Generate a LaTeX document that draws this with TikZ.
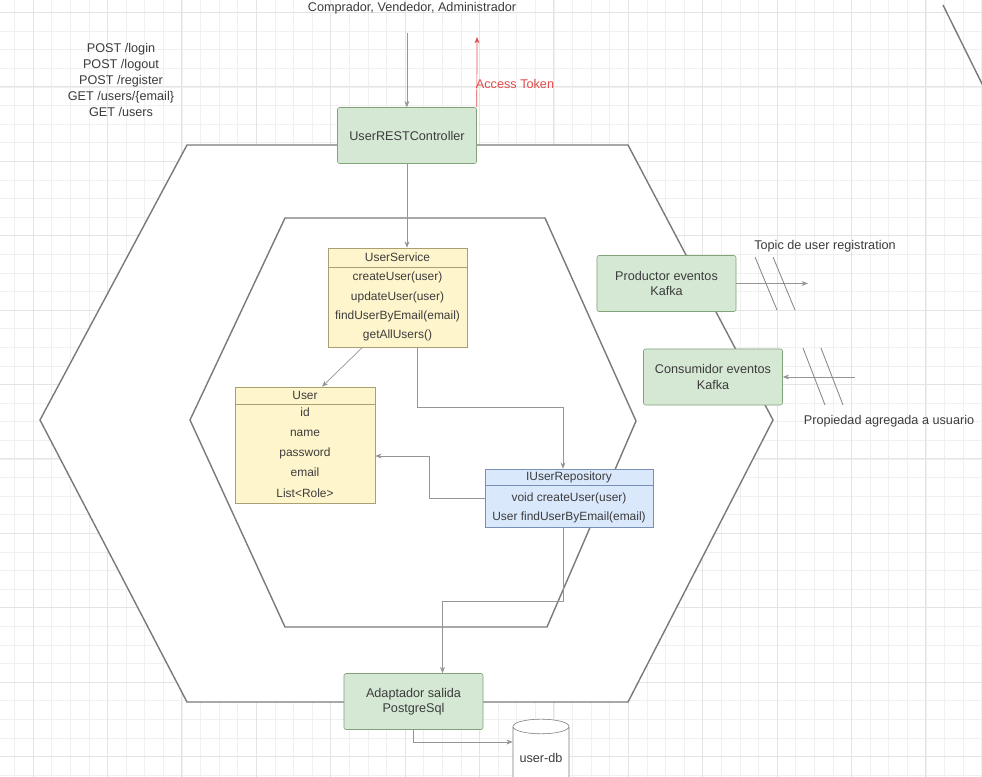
\documentclass[tikz,border=0pt]{standalone}
\usepackage{fontspec}
\setmainfont{Liberation Sans}
\usetikzlibrary{arrows.meta, positioning, shapes.geometric, calc}
\definecolor{hxline}{HTML}{7A7A7A}
\definecolor{hxtext}{HTML}{3C3C3C}
\definecolor{hxgreen}{HTML}{D5E8D4}
\definecolor{hxgreenline}{HTML}{82A37A}
\definecolor{hxyellow}{HTML}{FFF5CC}
\definecolor{hxyellowline}{HTML}{A8A070}
\definecolor{hxblue}{HTML}{DAE8FC}
\definecolor{hxblueline}{HTML}{7890B8}
\definecolor{hxred}{HTML}{E34A4A}
\definecolor{hxgrid}{HTML}{F0F0F0}
\definecolor{hxgridmajor}{HTML}{E4E4E4}

\begin{document}
\begin{tikzpicture}[
  x=0.025cm, y=-0.025cm,
  every node/.style={font=\fontsize{9}{11}\selectfont, text=hxtext},
  comp/.style={rectangle, draw=hxgreenline, fill=hxgreen, rounded corners=1.5pt, align=center, minimum width=3.475cm, minimum height=1.4cm},
  cls/.style={rectangle, draw, minimum width=3.5cm},
  row/.style={font=\fontsize{8.5}{10}\selectfont, inner sep=1pt, text height=6.3pt, text depth=1.8pt},
  link/.style={draw=hxline!80, line width=0.5pt, -{Stealth[length=4.5pt, width=3.5pt]}},
  hex/.style={draw=hxline, line width=1pt, fill=white},
  slash/.style={draw=hxline!90, line width=0.6pt},
]
\clip (0,0) rectangle (982,777);
\fill[white] (0,0) rectangle (982,777);

% Grid
\foreach \gx in {14.4,33,...,990} \draw[hxgrid, line width=0.4pt] (\gx,0) -- (\gx,777);
\foreach \gy in {12.4,31,...,790} \draw[hxgrid, line width=0.4pt] (0,\gy) -- (982,\gy);
\foreach \gx in {33,107.4,...,990} \draw[hxgridmajor, line width=0.5pt] (\gx,0) -- (\gx,777);
\foreach \gy in {12.4,86.8,...,790} \draw[hxgridmajor, line width=0.5pt] (0,\gy) -- (982,\gy);

\draw[hex] (187,145) -- (628,145) -- (773,420) -- (628,702) -- (187,702) -- (40,420) -- cycle;
\draw[hex] (285,218) -- (545,218) -- (636,421) -- (547,627) -- (285,627) -- (190,420) -- cycle;
\draw[hxline, line width=1pt] (943,5) -- (990,100);

\node[align=center, font=\fontsize{9}{11.4}\selectfont] (endpoints) at (121,80) {POST /login\\POST /logout\\POST /register\\GET /users/\{email\}\\GET /users};
\node[anchor=north, inner sep=1pt] (actors) at (412,0.5) {Comprador, Vendedor, Administrador};
\node[text=hxred] (token) at (515,84) {Access Token};

\node[comp] (ctrl) at (407,135.5) {UserRESTController};
\node[comp] (prod) at (666.5,283.5) {Productor eventos\\Kafka};
\node[comp] (cons) at (713,377) {Consumidor eventos\\Kafka};
\node[comp] (adapt) at (413.5,701.5) {Adaptador salida\\PostgreSql};
\node[cylinder, shape border rotate=90, aspect=0.28, draw=hxline, fill=white, minimum width=1.4cm, minimum height=1.65cm] (db) at (541,758) {user-db};

\node[cls, draw=hxyellowline, fill=hxyellow, minimum width=3.475cm, minimum height=2.475cm] (svc) at (397.5,297.5) {};
\draw[hxyellowline] ([yshift=-0.5cm]svc.north west) -- ([yshift=-0.5cm]svc.north east);
\node[row] (svc-h) at (397.5,258) {UserService};
\foreach \t [count=\i] in {createUser(user), updateUser(user), findUserByEmail(email), getAllUsers()}
  \node[row] (svc-\i) at (397.5,258.5+19.2*\i) {\t};

\node[cls, draw=hxyellowline, fill=hxyellow, minimum width=3.5cm, minimum height=2.9cm] (usr) at (305,445) {};
\draw[hxyellowline] ([yshift=-0.45cm]usr.north west) -- ([yshift=-0.45cm]usr.north east);
\node[row] (usr-h) at (305,396) {User};
\foreach \t [count=\i] in {id, name, password, email, List<Role>}
  \node[row] (usr-\i) at (305,393+20.2*\i) {\t};

\node[cls, draw=hxblueline, fill=hxblue, minimum width=4.2cm, minimum height=1.45cm] (repo) at (569,498) {};
\draw[hxblueline] ([yshift=-0.425cm]repo.north west) -- ([yshift=-0.425cm]repo.north east);
\node[row] (repo-h) at (569,477.5) {IUserRepository};
\node[row] (repo-1) at (569,498) {void createUser(user)};
\node[row] (repo-2) at (569,517) {User findUserByEmail(email)};

\node (topic) at (825,246) {Topic de user registration};
\node (prop) at (889,421) {Propiedad agregada a usuario};
\coordinate (actorsin) at (407,33);
\coordinate (tokenout) at (477,37);
\coordinate (topicout) at (808,283.5);
\coordinate (propin) at (855,377);

\draw[link] (actorsin) -- (ctrl.north);
\draw[link, draw=hxred] (ctrl.north east) -- (tokenout);
\draw[link] (ctrl.south) -- (ctrl.south |- svc.north);
\draw[link] ([xshift=-0.875cm]svc.south) -- ([xshift=0.425cm]usr.north);
\draw[link] ([xshift=0.5cm]svc.south) -- ++(0,60) -| ([xshift=-0.15cm]repo.north);
\draw[link] (repo.west) -- ++(-55,0) |- ([yshift=-0.275cm]usr.east);
\draw[link] ([xshift=-0.15cm]repo.south) -- ++(0,74) -| ([xshift=0.725cm]adapt.north);
\draw[link] (adapt.south) |- ([yshift=0.4cm]db.west);
\draw[link] (prod.east) -- (topicout);
\draw[link] (propin) -- (cons.east);

\draw[slash] (755,257) -- (777,310);
\draw[slash] (773,257) -- (795,310);
\draw[slash] (803,348) -- (825,405);
\draw[slash] (821,348) -- (843,405);
\end{tikzpicture}
\end{document}
